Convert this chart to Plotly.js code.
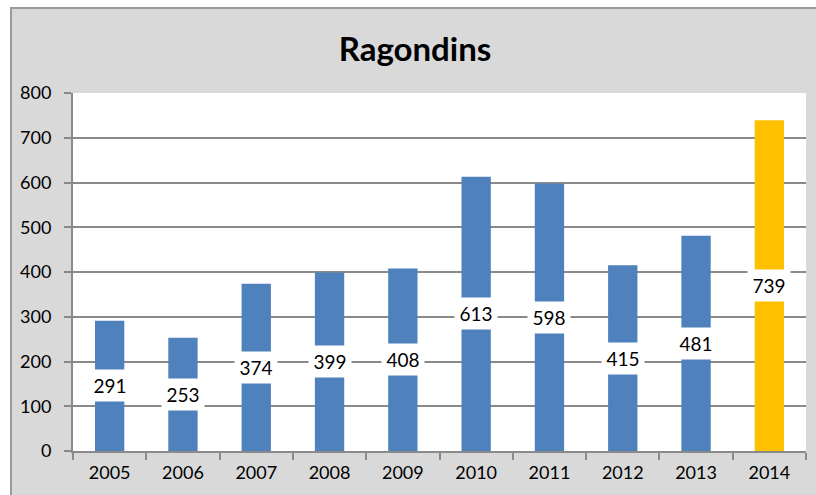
<!DOCTYPE html>
<html>
<head>
<meta charset="utf-8">
<script src="https://cdn.plot.ly/plotly-3.0.1.min.js"></script>
<style>
  html, body { margin: 0; padding: 0; background: #ffffff; width: 816px; height: 495px; overflow: hidden; }
  #frame { position: absolute; left: 10px; top: 7px; width: 806px; height: 488px;
           border-left: 2px solid #9a9a9a; border-top: 2px solid #9a9a9a; background: #d9d9d9; }
  #chart { position: absolute; left: 0; top: 0; width: 806px; height: 488px; }
</style>
</head>
<body>
<div id="frame"><div id="chart"></div></div>
<script>
const years = ["2005","2006","2007","2008","2009","2010","2011","2012","2013","2014"];
const counts = [291, 253, 374, 399, 408, 613, 598, 415, 481, 739];
const yTicks = [0, 100, 200, 300, 400, 500, 600, 700, 800];
const chartTitle = "Ragondins";

const blue = "#4f81bd", gold = "#ffc000";
const colors = years.map((y, i) => i === years.length - 1 ? gold : blue);
const FONT = "Lato, 'Liberation Sans', sans-serif";

const trace = {
  type: "bar",
  x: years,
  y: counts,
  marker: { color: colors },
  hoverinfo: "skip"
};

const annotations = years.map((y, i) => ({
  x: i, y: counts[i] / 2, xref: "x", yref: "y",
  text: String(counts[i]), showarrow: false,
  bgcolor: "#ffffff", borderpad: 0, width: 42, height: 31,
  font: { family: FONT, size: 19, color: "#000000" }
}));

const layout = {
  width: 806, height: 488,
  margin: { l: 61, r: 12, t: 84, b: 46 },
  paper_bgcolor: "#d9d9d9",
  plot_bgcolor: "#ffffff",
  bargap: 0.6,
  showlegend: false,
  title: { text: "<b>" + chartTitle + "</b>", x: 0.5, xref: "container", xanchor: "center",
           y: 1 - 40 / 488, yref: "container", yanchor: "middle",
           font: { family: FONT, size: 33, color: "#000000" } },
  xaxis: {
    type: "category", categoryorder: "array", categoryarray: years,
    range: [-0.5, years.length - 0.5],
    showline: true, linecolor: "#8a8a8a", linewidth: 2,
    ticks: "outside", tickson: "boundaries", ticklen: 7, tickcolor: "#8a8a8a", tickwidth: 2,
    showgrid: false, tickangle: 0, ticklabelstandoff: 4,
    tickfont: { family: FONT, size: 18, color: "#000000" }
  },
  yaxis: {
    range: [0, 800], tickvals: yTicks, ticktext: yTicks.map(String),
    showline: true, linecolor: "#8a8a8a", linewidth: 2,
    ticks: "outside", ticklen: 7, tickcolor: "#8a8a8a", tickwidth: 2,
    showgrid: true, gridcolor: "#8a8a8a", gridwidth: 2,
    zeroline: false, ticklabelstandoff: 9,
    tickfont: { family: FONT, size: 18, color: "#000000" }
  },
  annotations: annotations
};

Plotly.newPlot("chart", [trace], layout, { displayModeBar: false, staticPlot: true });
</script>
</body>
</html>
